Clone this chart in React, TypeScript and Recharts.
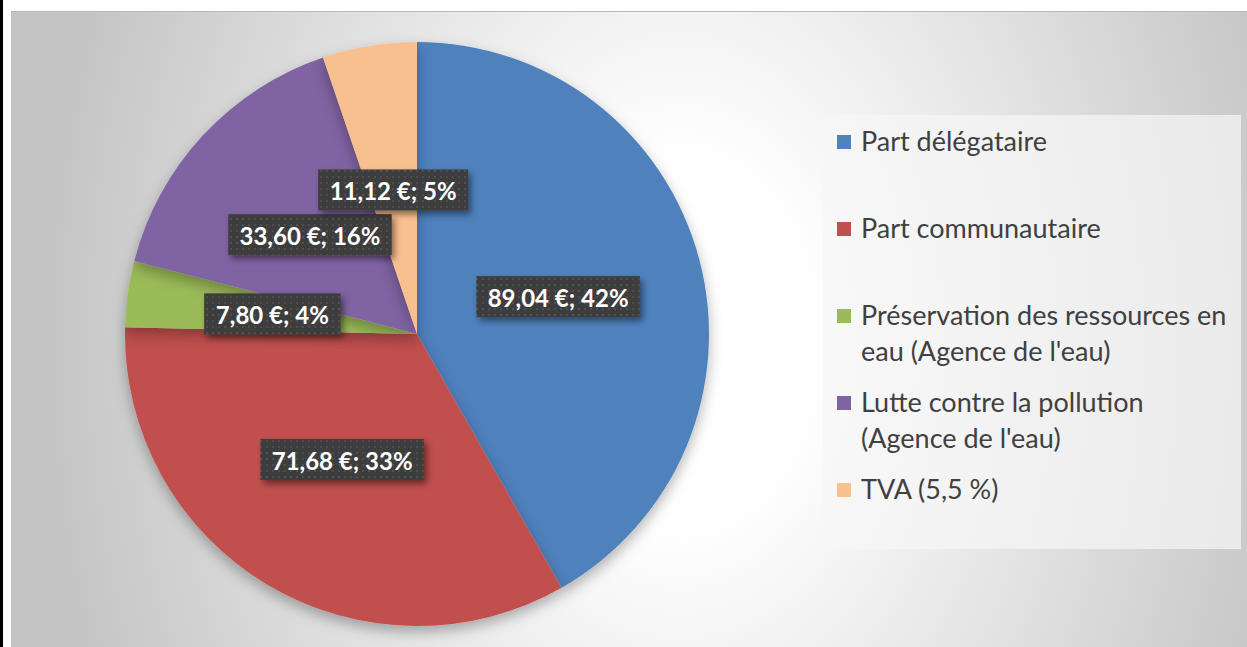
import { PieChart, Pie, Cell, Legend } from "recharts";

const names = [
  "Part délégataire",
  "Part communautaire",
  "Préservation des ressources en eau (Agence de l'eau)",
  "Lutte contre la pollution (Agence de l'eau)",
  "TVA (5,5 %)",
];
const amounts = [89.04, 71.68, 7.8, 33.6, 11.12];
const pctShown = [42, 33, 4, 16, 5];
const colors = ["#4f81bd", "#c0504d", "#9bbb59", "#8064a2", "#f9c08f"];

const data = names.map((name, i) => ({ name, value: amounts[i], pct: pctShown[i] }));

const RAD = Math.PI / 180;

function fmtLabel(i: number) {
  return `${amounts[i].toFixed(2).replace(".", ",")} €; ${pctShown[i]}%`;
}

const renderLabel = (props: any) => {
  const { cx, cy, midAngle, outerRadius, index } = props;
  const r = outerRadius * 0.5;
  const x = cx + r * Math.cos(-midAngle * RAD);
  const y = cy + r * Math.sin(-midAngle * RAD);
  const text = fmtLabel(index);
  const w = text.length * 13.5 + 1.5;
  const h = 41;
  return (
    <g key={`lbl-${index}`}>
      <rect x={x - w / 2} y={y - h / 2} width={w} height={h} fill="url(#dots)" filter="url(#lblShadow)" />
      <text
        x={x}
        y={y + 1}
        textAnchor="middle"
        dominantBaseline="central"
        fill="#ffffff"
        fontFamily="Lato, sans-serif"
        fontWeight={700}
        fontSize={24}
      >
        {text}
      </text>
    </g>
  );
};

const LegendBox = () => (
  <div
    style={{
      width: 418,
      height: 434,
      boxSizing: "border-box",
      paddingTop: 8,
      paddingLeft: 14,
      background: "rgba(246,246,246,0.7)",
      fontFamily: "Lato, sans-serif",
      fontSize: 27,
      color: "#404040",
    }}
  >
    {names.map((n, i) => (
      <div key={n} style={{ height: 87, display: "flex", alignItems: "flex-start" }}>
        <div style={{ width: 14, height: 14, background: colors[i], marginTop: 12, marginRight: 10, flex: "none" }} />
        <div style={{ width: 378, lineHeight: "36px" }}>{n}</div>
      </div>
    ))}
  </div>
);

export default function App() {
  return (
    <div style={{ position: "absolute", left: 0, top: 0, width: 1247, height: 647, background: "#fff", overflow: "hidden" }}>
      <div style={{ position: "absolute", left: 0, top: 0, width: 3, height: 647, background: "#000" }} />
      <div
        style={{
          position: "absolute",
          left: 11,
          top: 11,
          width: 1236,
          height: 636,
          borderTop: "1px solid #b8b8b8",
          borderLeft: "1px solid #c0c0c0",
          boxSizing: "border-box",
          background: "radial-gradient(ellipse 640px 900px at 669px 330px, #ffffff 0%, #ffffff 20%, #c4c4c4 100%)",
        }}
      />
      <div style={{ position: "absolute", left: 0, top: 0 }}>
        <PieChart width={1247} height={647} margin={{ top: 0, right: 0, bottom: 0, left: 0 }}>
          <defs>
            <pattern id="dots" width="6" height="6" patternUnits="userSpaceOnUse">
              <rect width="6" height="6" fill="#3d3d3d" />
              <rect x="2" y="2" width="2" height="2" fill="#505050" />
            </pattern>
            <filter id="lblShadow" x="-20%" y="-30%" width="150%" height="180%">
              <feDropShadow dx="3" dy="4" stdDeviation="3" floodColor="#000" floodOpacity="0.45" />
            </filter>
            <filter id="pieShadow" x="-20%" y="-20%" width="140%" height="140%">
              <feDropShadow dx="0" dy="6" stdDeviation="7" floodColor="#000" floodOpacity="0.3" />
            </filter>
          </defs>
          <Pie
            data={data}
            dataKey="value"
            nameKey="name"
            cx={417}
            cy={334}
            outerRadius={292}
            startAngle={90}
            endAngle={-270}
            stroke="none"
            labelLine={false}
            label={renderLabel}
            isAnimationActive={false}
            style={{ filter: "url(#pieShadow)" }}
          >
            {data.map((d, i) => (
              <Cell key={d.name} fill={colors[i]} />
            ))}
          </Pie>
          <Legend
            content={() => <LegendBox />}
            wrapperStyle={{ position: "absolute", left: 823, top: 115, width: 418, height: 434 }}
          />
        </PieChart>
      </div>
    </div>
  );
}
